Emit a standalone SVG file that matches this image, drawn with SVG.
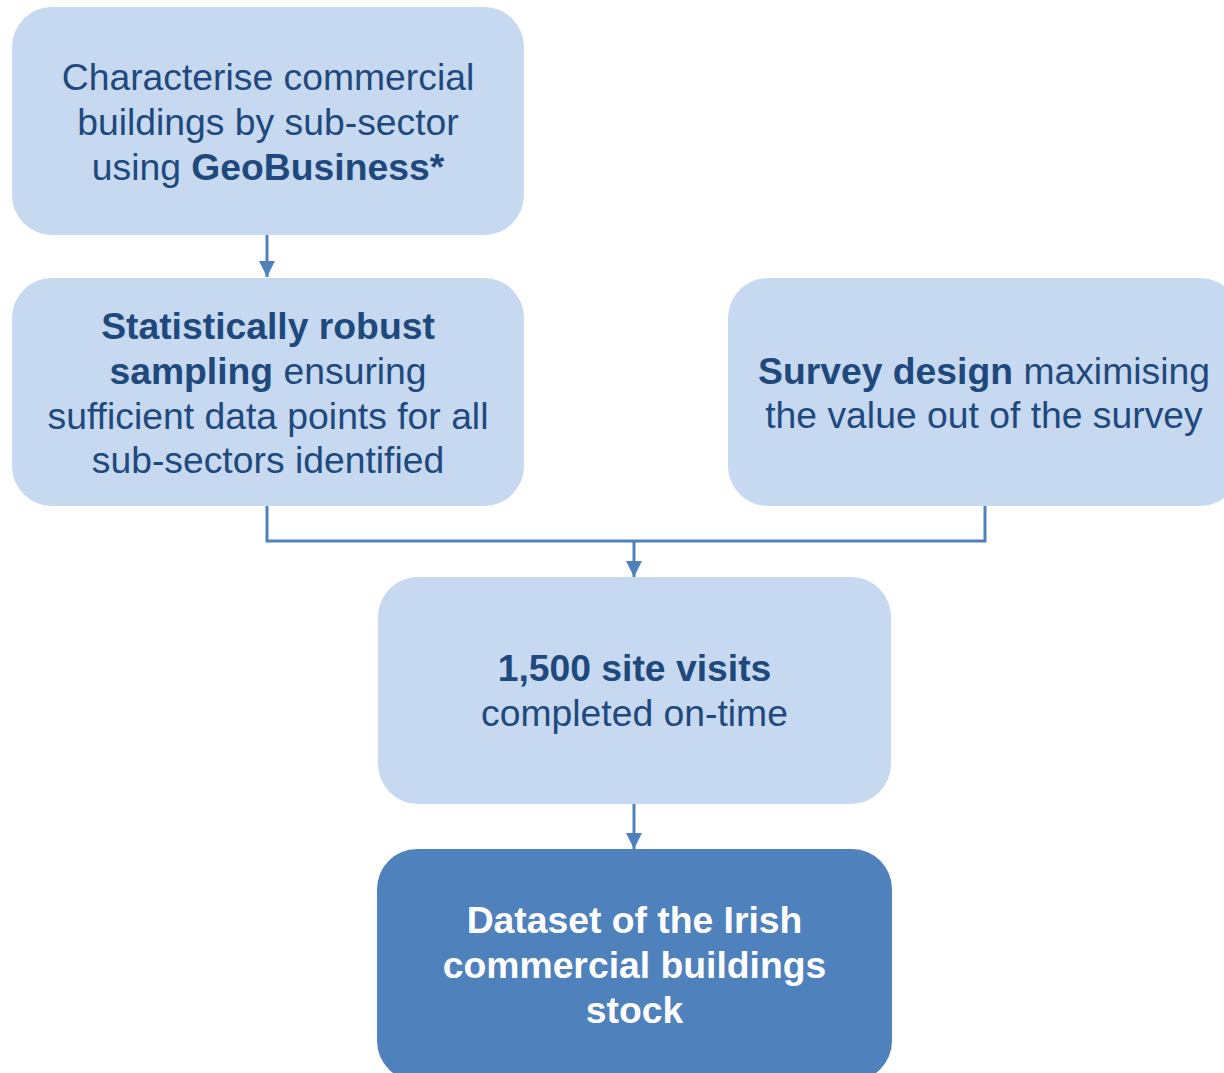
<svg xmlns="http://www.w3.org/2000/svg" width="1224" height="1073" viewBox="0 0 1224 1073">
  <style>
    .box { fill: #C6D9F0; }
    .box-dark { fill: #4F81BD; }
    .label { font-family: "Liberation Sans", Arial, sans-serif; font-size: 37.3px; fill: #1F497D; text-anchor: middle; }
    .label-light { fill: #FFFFFF; font-weight: bold; }
    .b { font-weight: bold; }
    .wire { fill: none; stroke: #4F81BD; stroke-width: 3; }
  </style>
  <defs>
    <marker id="arrow" viewBox="0 0 16 16" refX="16" refY="8" markerWidth="16" markerHeight="16" markerUnits="userSpaceOnUse" orient="auto">
      <path d="M0,0 L16,8 L0,16 z" fill="#4F81BD"/>
    </marker>
  </defs>
  <rect width="1224" height="1073" fill="#FFFFFF"/>

  <g id="connectors">
    <path class="wire" d="M267,235 V277" marker-end="url(#arrow)"/>
    <path class="wire" d="M267,506 V541 H985 V506"/>
    <path class="wire" d="M634,541 V577" marker-end="url(#arrow)"/>
    <path class="wire" d="M634,804 V849" marker-end="url(#arrow)"/>
  </g>

  <g id="characterise">
    <rect class="box" x="12" y="7" width="512" height="228" rx="40"/>
    <text class="label" x="268" y="90">Characterise commercial</text>
    <text class="label" x="268" y="135">buildings by sub-sector</text>
    <text class="label" x="268" y="180">using <tspan class="b">GeoBusiness*</tspan></text>
  </g>

  <g id="sampling">
    <rect class="box" x="12" y="278" width="512" height="228" rx="40"/>
    <text class="label b" x="268" y="339">Statistically robust</text>
    <text class="label" x="268" y="384"><tspan class="b">sampling</tspan> ensuring</text>
    <text class="label" x="268" y="429">sufficient data points for all</text>
    <text class="label" x="268" y="473">sub-sectors identified</text>
  </g>

  <g id="survey-design">
    <rect class="box" x="728" y="278" width="512" height="228" rx="40"/>
    <text class="label" x="984" y="384"><tspan class="b">Survey design</tspan> maximising</text>
    <text class="label" x="984" y="428">the value out of the survey</text>
  </g>

  <g id="site-visits">
    <rect class="box" x="378" y="577" width="513" height="227" rx="40"/>
    <text class="label b" x="634.5" y="681">1,500 site visits</text>
    <text class="label" x="634.5" y="726">completed on-time</text>
  </g>

  <g id="dataset">
    <rect class="box-dark" x="377" y="849" width="515" height="232" rx="40"/>
    <text class="label label-light" x="634.5" y="933">Dataset of the Irish</text>
    <text class="label label-light" x="634.5" y="978">commercial buildings</text>
    <text class="label label-light" x="634.5" y="1023">stock</text>
  </g>
</svg>
